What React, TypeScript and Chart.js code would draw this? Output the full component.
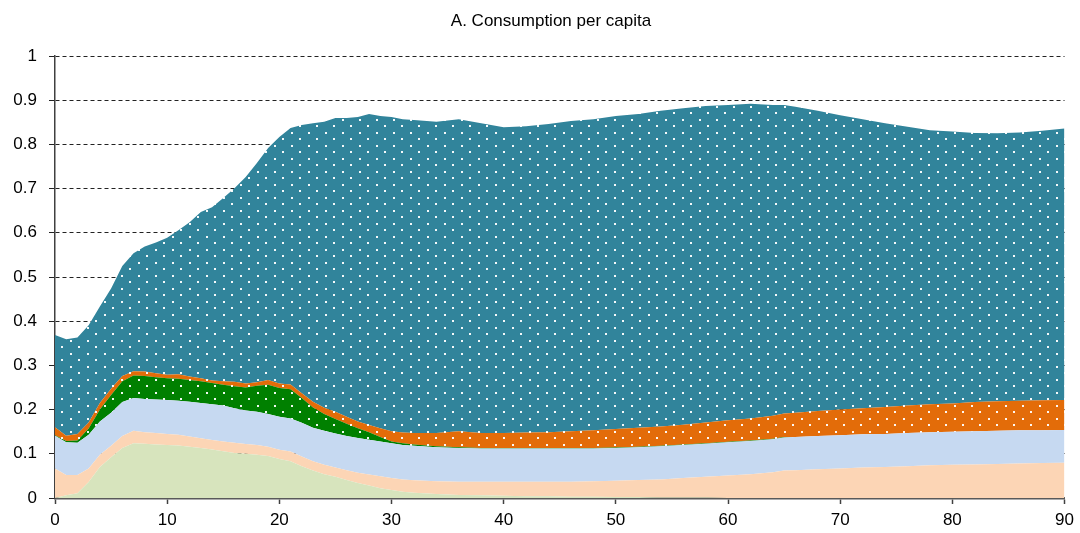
import { useEffect, useRef } from 'react';
import { Chart, registerables } from 'chart.js';

Chart.register(...registerables);

const TITLE = 'A. Consumption per capita';

const ages = [
  0, 1, 2, 3, 4, 5, 6, 7, 8, 9, 10, 11, 12, 13, 14, 15, 16, 17, 18, 19, 20, 21, 22, 23, 24, 25, 26, 27, 28, 29, 30, 31,
  32, 34, 36, 38, 40, 42, 44, 46, 48, 50, 52, 54, 56, 58, 60, 62, 64, 65,
  66, 68, 70, 72, 74, 76, 78, 80, 82, 84, 86, 88, 90,
];

const lightGreenSeries = [
  0, 0.006, 0.011, 0.036, 0.07, 0.092, 0.113, 0.124, 0.123, 0.121, 0.12, 0.119, 0.116, 0.113, 0.11, 0.106, 0.102, 0.1, 0.098, 0.095, 0.088, 0.083, 0.072, 0.062, 0.054, 0.048, 0.041, 0.034, 0.028, 0.022, 0.018, 0.014,
  0.012, 0.009, 0.007, 0.006, 0.005, 0.004, 0.004, 0.003, 0.003, 0.002, 0.002, 0.001, 0.001, 0.001, 0, 0, 0, 0,
  0, 0, 0, 0, 0, 0, 0, 0, 0, 0, 0, 0, 0,
];

const peachSeries = [
  0.067, 0.046, 0.041, 0.031, 0.028, 0.026, 0.027, 0.028, 0.026, 0.026, 0.025, 0.024, 0.023, 0.022, 0.021, 0.022, 0.023, 0.022, 0.022, 0.021, 0.021, 0.022, 0.022, 0.021, 0.021, 0.021, 0.022, 0.023, 0.025, 0.027, 0.027, 0.028,
  0.028, 0.029, 0.03, 0.031, 0.032, 0.033, 0.033, 0.034, 0.035, 0.037, 0.039, 0.041, 0.044, 0.047, 0.051, 0.054, 0.058, 0.062,
  0.063, 0.065, 0.067, 0.069, 0.07, 0.072, 0.074, 0.075, 0.076, 0.077, 0.078, 0.079, 0.08,
];

const lightBlueSeries = [
  0.074, 0.074, 0.073, 0.076, 0.075, 0.075, 0.077, 0.074, 0.075, 0.076, 0.077, 0.077, 0.079, 0.08, 0.081, 0.081, 0.078, 0.076, 0.075, 0.074, 0.075, 0.075, 0.076, 0.076, 0.077, 0.077, 0.077, 0.079, 0.079, 0.079, 0.079, 0.078,
  0.078, 0.077, 0.076, 0.075, 0.075, 0.075, 0.075, 0.075, 0.074, 0.074, 0.074, 0.075, 0.075, 0.075, 0.075, 0.075, 0.075, 0.075,
  0.075, 0.075, 0.075, 0.075, 0.075, 0.075, 0.075, 0.075, 0.075, 0.075, 0.075, 0.074, 0.074,
];

const darkGreenSeries = [
  0.001, 0.003, 0.005, 0.014, 0.027, 0.04, 0.047, 0.051, 0.052, 0.05, 0.049, 0.05, 0.049, 0.049, 0.048, 0.047, 0.05, 0.052, 0.059, 0.066, 0.065, 0.066, 0.056, 0.046, 0.038, 0.033, 0.028, 0.022, 0.017, 0.01, 0.004, 0.004,
  0.003, 0.002, 0.002, 0.001, 0.001, 0.001, 0.001, 0.001, 0.001, 0.001, 0.001, 0.001, 0.001, 0.001, 0.001, 0.001, 0.001, 0.001,
  0, 0, 0, 0, 0, 0, 0, 0, 0, 0, 0, 0, 0,
];

const orangeSeries = [
  0.018, 0.012, 0.015, 0.014, 0.015, 0.014, 0.012, 0.01, 0.01, 0.009, 0.008, 0.01, 0.008, 0.007, 0.006, 0.008, 0.01, 0.009, 0.008, 0.011, 0.01, 0.011, 0.011, 0.013, 0.014, 0.016, 0.016, 0.015, 0.016, 0.02, 0.023, 0.024,
  0.026, 0.03, 0.036, 0.034, 0.034, 0.035, 0.036, 0.038, 0.04, 0.042, 0.043, 0.044, 0.045, 0.047, 0.049, 0.05, 0.052, 0.053,
  0.055, 0.057, 0.058, 0.059, 0.061, 0.062, 0.063, 0.064, 0.066, 0.067, 0.067, 0.068, 0.068,
];

const tealSeries = [
  0.209, 0.218, 0.218, 0.22, 0.218, 0.227, 0.249, 0.267, 0.283, 0.296, 0.31, 0.326, 0.349, 0.376, 0.392, 0.415, 0.438, 0.467, 0.496, 0.525, 0.558, 0.58, 0.607, 0.63, 0.647, 0.665, 0.676, 0.689, 0.704, 0.706, 0.711, 0.709,
  0.708, 0.704, 0.706, 0.701, 0.692, 0.693, 0.697, 0.702, 0.704, 0.708, 0.71, 0.714, 0.716, 0.716, 0.713, 0.712, 0.703, 0.698,
  0.692, 0.679, 0.666, 0.654, 0.642, 0.631, 0.62, 0.615, 0.609, 0.606, 0.607, 0.61, 0.614,
];

const xTicks = [0, 10, 20, 30, 40, 50, 60, 70, 80, 90];
const yTicks = [0, 0.1, 0.2, 0.3, 0.4, 0.5, 0.6, 0.7, 0.8, 0.9, 1];

const FONT = '"Liberation Sans", Arial, sans-serif';

function dotPattern(color: string): CanvasPattern | string {
  const c = document.createElement('canvas');
  c.width = 17;
  c.height = 13;
  const g = c.getContext('2d');
  if (!g) return color;
  g.fillStyle = color;
  g.fillRect(0, 0, 17, 13);
  g.fillStyle = 'rgba(255,255,255,0.95)';
  g.fillRect(2, 2, 2, 2);
  g.fillRect(10, 8, 2, 2);
  return g.createPattern(c, 'repeat') || color;
}

function toPoints(values: number[]) {
  return ages.map((a, i) => ({ x: a, y: values[i] }));
}

const titlePlugin = {
  id: 'plainTitle',
  afterDraw(chart: any) {
    const ctx = chart.ctx;
    ctx.save();
    ctx.fillStyle = '#000';
    ctx.font = `17px ${FONT}`;
    ctx.textAlign = 'center';
    ctx.textBaseline = 'middle';
    ctx.fillText(TITLE, 551, 21);
    ctx.restore();
  },
};

export default function App() {
  const ref = useRef<HTMLCanvasElement | null>(null);

  useEffect(() => {
    if (!ref.current) return;
    const layers = [
      { label: 'Layer 1', values: lightGreenSeries, bg: '#D7E4BD' as any },
      { label: 'Layer 2', values: peachSeries, bg: '#FCD5B5' as any },
      { label: 'Layer 3', values: lightBlueSeries, bg: '#C6D9F1' as any },
      { label: 'Layer 4', values: darkGreenSeries, bg: dotPattern('#008000') },
      { label: 'Layer 5', values: orangeSeries, bg: dotPattern('#E36C09') },
      { label: 'Layer 6', values: tealSeries, bg: dotPattern('#31849B') },
    ];
    const chart = new Chart(ref.current, {
      type: 'line',
      data: {
        datasets: layers.map((l, i) => ({
          label: l.label,
          data: toPoints(l.values),
          backgroundColor: l.bg,
          borderWidth: 0,
          borderColor: 'rgba(0,0,0,0)',
          pointRadius: 0,
          tension: 0,
          fill: i === 0 ? 'origin' : '-1',
        })),
      },
      plugins: [titlePlugin],
      options: {
        animation: false,
        responsive: true,
        maintainAspectRatio: false,
        layout: { padding: { left: 0, right: 15, top: 56, bottom: 0 } },
        plugins: {
          legend: { display: false },
          tooltip: { enabled: false },
          title: { display: false },
        },
        scales: {
          x: {
            type: 'linear',
            min: 0,
            max: 90,
            afterBuildTicks: (s: any) => {
              s.ticks = xTicks.map((v) => ({ value: v }));
            },
            afterFit: (s: any) => {
              s.height = 35;
            },
            ticks: {
              color: '#000',
              font: { family: FONT, size: 17 },
              padding: 6,
              maxRotation: 0,
              autoSkip: false,
            },
            grid: {
              display: true,
              drawOnChartArea: false,
              drawTicks: true,
              tickLength: 6,
              tickColor: '#404040',
              tickWidth: 1.5,
            },
            border: { display: true, color: '#595959', width: 2.5 },
          },
          y: {
            stacked: true,
            min: 0,
            max: 1,
            afterBuildTicks: (s: any) => {
              s.ticks = yTicks.map((v) => ({ value: v }));
            },
            afterFit: (s: any) => {
              s.width = 55;
            },
            ticks: {
              color: '#000',
              font: { family: FONT, size: 17 },
              padding: 12,
              autoSkip: false,
              callback: (v: any) => String(Number(Number(v).toFixed(1))),
            },
            grid: {
              display: true,
              drawOnChartArea: true,
              drawTicks: true,
              tickLength: 6,
              color: '#222',
              lineWidth: 1,
              tickColor: '#222',
            },
            border: { display: true, color: '#404040', width: 1.5, dash: [4, 3] },
          },
        },
      },
    } as any);
    return () => chart.destroy();
  }, []);

  return (
    <div style={{ position: 'fixed', left: 0, top: 0, width: 1080, height: 533, background: '#fff' }}>
      <canvas ref={ref} />
    </div>
  );
}
